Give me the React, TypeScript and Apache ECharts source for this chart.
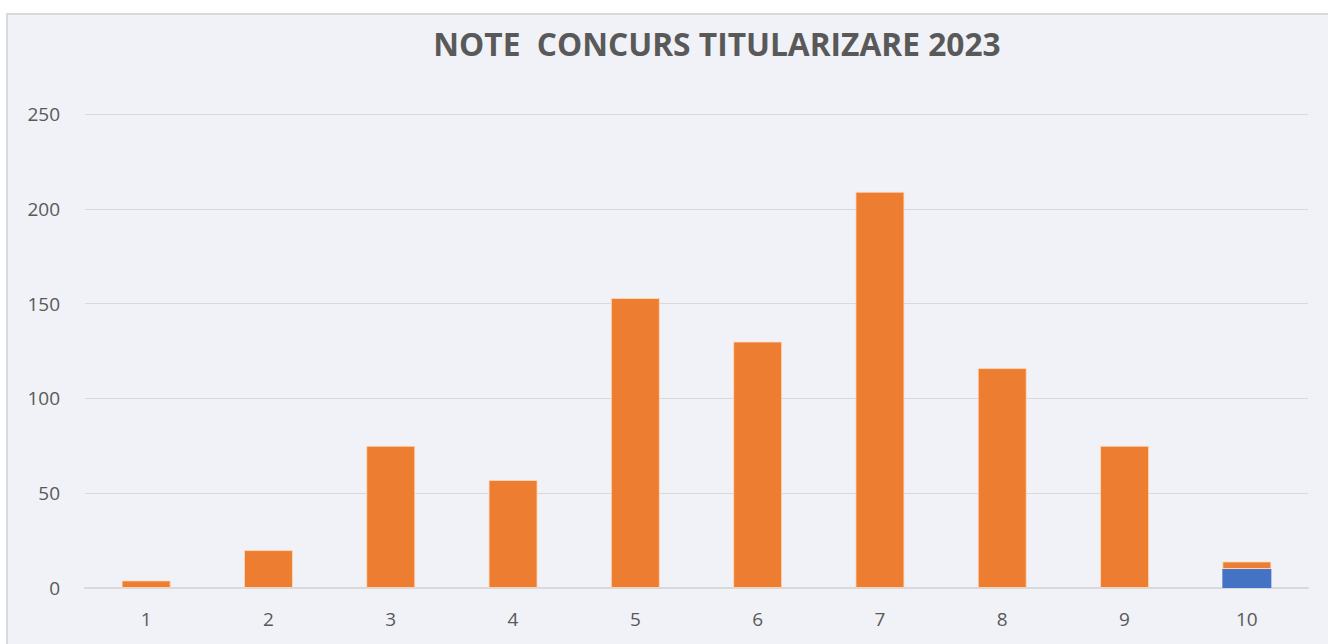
import React, { useEffect, useRef } from "react";
import * as echarts from "echarts";

const categories = ["1", "2", "3", "4", "5", "6", "7", "8", "9", "10"];
const blueValues = [0, 0, 0, 0, 0, 0, 0, 0, 0, 10];
const orangeValues = [4, 20, 75, 57, 153, 130, 209, 116, 75, 4];
const yTicks = { min: 0, max: 250, interval: 50 };
const titleText = "NOTE  CONCURS TITULARIZARE 2023";

export default function App() {
  const ref = useRef<HTMLDivElement>(null);
  useEffect(() => {
    if (!ref.current) return;
    const chart = echarts.init(ref.current, null, { renderer: "svg" });
    chart.setOption({
      animation: false,
      backgroundColor: "#ffffff",
      graphic: [
        {
          type: "rect",
          z: -10,
          shape: { x: 7, y: 14, width: 1330, height: 640 },
          style: { fill: "#f0f2f7", stroke: "#d9d9d9", lineWidth: 2 },
          silent: true,
        },
      ],
      title: {
        text: titleText,
        left: 712,
        top: 22,
        textAlign: "center",
        textStyle: {
          fontFamily: "Open Sans",
          fontWeight: "bold",
          fontSize: 31.7,
          color: "#595959",
        },
      },
      grid: { left: 85, right: 20, top: 114, bottom: 56, containLabel: false },
      xAxis: {
        type: "category",
        data: categories,
        axisLine: { lineStyle: { color: "#d9d9d9", width: 2 } },
        axisTick: { show: false },
        axisLabel: {
          color: "#595959",
          fontFamily: "Open Sans",
          fontSize: 19,
          margin: 21,
        },
      },
      yAxis: {
        type: "value",
        min: yTicks.min,
        max: yTicks.max,
        interval: yTicks.interval,
        axisLine: { show: false },
        axisTick: { show: false },
        splitLine: { lineStyle: { color: "#d9d9d9", width: 1 } },
        axisLabel: {
          color: "#595959",
          fontFamily: "Open Sans",
          fontSize: 19,
          margin: 25,
        },
      },
      series: [
        {
          name: "blue",
          type: "bar",
          stack: "total",
          data: blueValues,
          barWidth: 49,
          itemStyle: { color: "#4472c4" },
        },
        {
          name: "orange",
          type: "bar",
          stack: "total",
          data: orangeValues,
          barWidth: 49,
          itemStyle: {
            color: "#ed7d31",
            borderColor: "rgba(255,220,190,0.8)",
            borderWidth: 1,
          },
        },
      ],
    });
    return () => chart.dispose();
  }, []);
  return (
    <div
      ref={ref}
      style={{ position: "fixed", left: 0, top: 0, width: 1328, height: 644 }}
    />
  );
}
